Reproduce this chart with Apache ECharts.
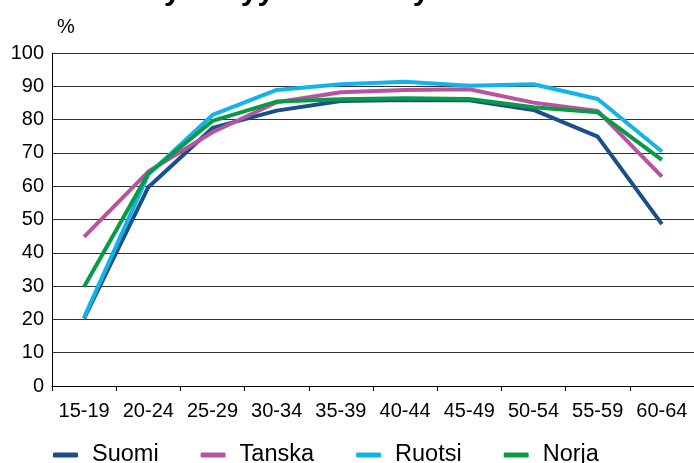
<!DOCTYPE html>
<html>
<head>
<meta charset="utf-8">
<script src="https://cdn.jsdelivr.net/npm/echarts@6/dist/echarts.min.js"></script>
<style>html,body{margin:0;padding:0;background:#fff}#c{width:694px;height:463px}</style>
</head>
<body>
<div id="c"></div>
<script>
const titleText = 'Työllisyysaste ikäryhmittäin';
const unitLabel = '%';
const categories = ['15-19','20-24','25-29','30-34','35-39','40-44','45-49','50-54','55-59','60-64'];
const suomi  = [20.3, 59.7, 77.5, 82.7, 85.6, 85.9, 85.8, 82.9, 74.9, 48.6];
const tanska = [44.8, 64.4, 76.2, 85.2, 88.2, 88.9, 89.1, 85.1, 82.6, 62.9];
const ruotsi = [20.6, 63.5, 81.4, 88.9, 90.6, 91.4, 90.2, 90.6, 86.2, 70.4];
const norja  = [29.8, 63.8, 79.6, 85.4, 86.1, 86.4, 86.2, 83.7, 82.2, 67.9];
const seriesNames = ['Suomi','Tanska','Ruotsi','Norja'];
const colors = ['#1b4f8c','#b9539f','#12b3e8','#079b48'];
const seriesData = [suomi, tanska, ruotsi, norja];

const font = 'Liberation Sans, Arial, sans-serif';
const chart = echarts.init(document.getElementById('c'), null, {renderer:'canvas'});
chart.setOption({
  animation: false,
  backgroundColor: '#fff',
  title: [
    {text: titleText, left: 'center', top: -28, textStyle: {fontFamily: font, fontSize: 30, fontWeight: 'bold', color: '#000'}},
    {text: unitLabel, left: 52, top: 12, textStyle: {fontFamily: font, fontSize: 20, fontWeight: 'normal', color: '#000'}}
  ],
  grid: {left: 52, right: 0, top: 53, bottom: 77, containLabel: false},
  legend: {
    data: seriesNames, left: 48, top: 438, icon: 'roundRect', itemWidth: 25, itemHeight: 5, itemGap: 42,
    textStyle: {fontFamily: font, fontSize: 23.5, color: '#000', padding: [0,0,0,9]}
  },
  xAxis: {
    type: 'category', data: categories, boundaryGap: true,
    axisLine: {show: true, lineStyle: {color: '#000', width: 1}},
    axisTick: {show: true, length: 5, lineStyle: {color: '#000'}},
    axisLabel: {fontFamily: font, fontSize: 20, color: '#000', margin: 15, interval: 0}
  },
  yAxis: {
    type: 'value', min: 0, max: 100, interval: 10,
    axisLine: {show: true, lineStyle: {color: '#000', width: 1}},
    axisTick: {show: false},
    axisLabel: {fontFamily: font, fontSize: 20, color: '#000', margin: 8},
    splitLine: {show: true, lineStyle: {color: '#333', width: 1}}
  },
  series: seriesData.map((d, i) => ({
    name: seriesNames[i], type: 'line', data: d, symbol: 'none',
    lineStyle: {color: colors[i], width: 4}, itemStyle: {color: colors[i]}
  }))
});
</script>
</body>
</html>
